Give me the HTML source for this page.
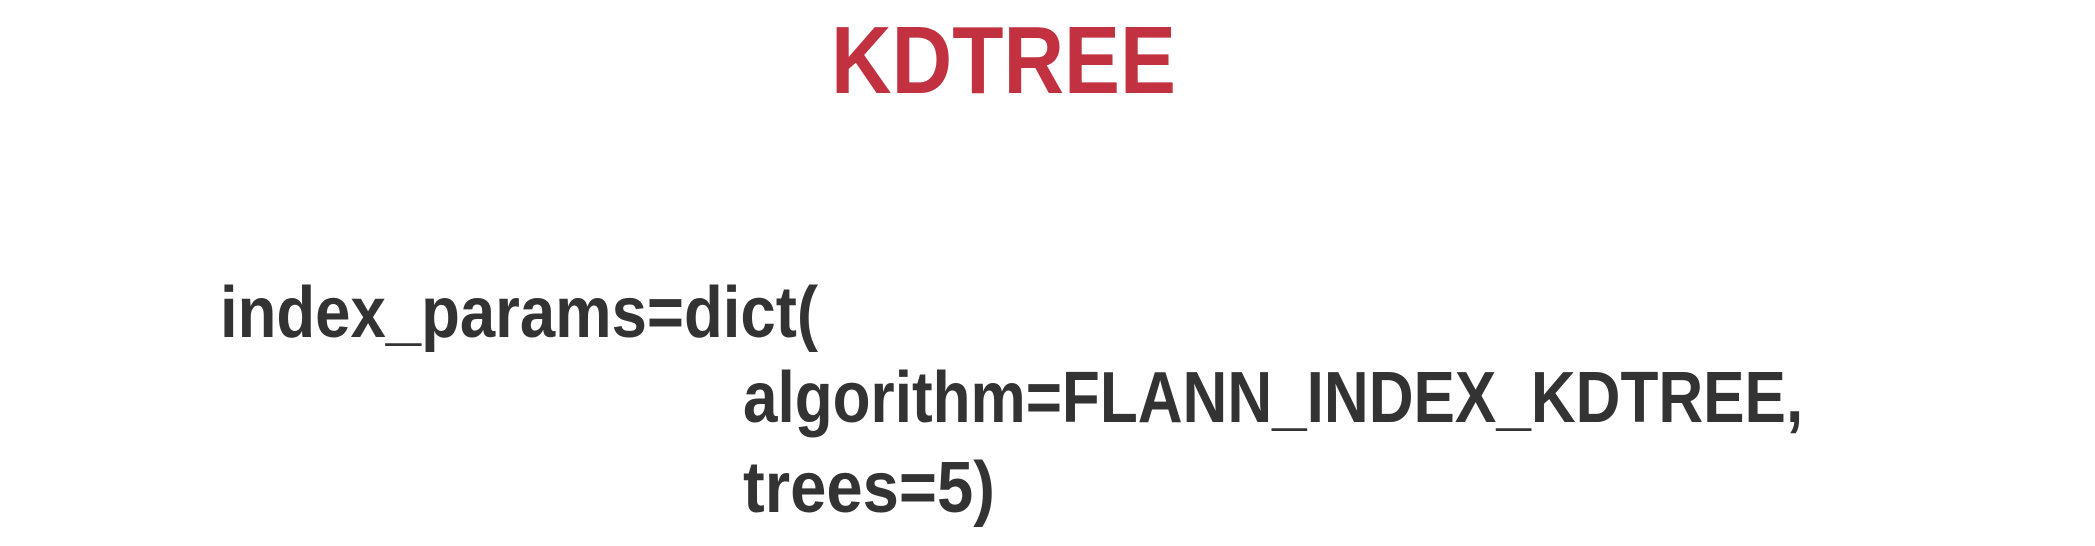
<!DOCTYPE html>
<html><head><meta charset="utf-8"><style>
html,body{margin:0;padding:0;background:#fff;}
svg{display:block;}
text{font-family:"Liberation Sans",sans-serif;font-weight:bold;}
</style></head><body>
<svg width="2095" height="546" viewBox="0 0 2095 546" xmlns="http://www.w3.org/2000/svg">
<rect width="2095" height="546" fill="#fff"/>
<text x="831" y="93" font-size="96" fill="#c1313f" textLength="345" lengthAdjust="spacingAndGlyphs">KDTREE</text>
<text x="220" y="337" font-size="72" fill="#333" textLength="598" lengthAdjust="spacingAndGlyphs">index_params=dict(</text>
<text transform="translate(743,422) scale(0.862,1)" x="0" y="0" font-size="72" fill="#333">algorithm=FLANN_INDEX_KDTREE,</text>
<text x="743" y="512" font-size="72" fill="#333" textLength="252" lengthAdjust="spacingAndGlyphs">trees=5)</text>
</svg>
</body></html>
